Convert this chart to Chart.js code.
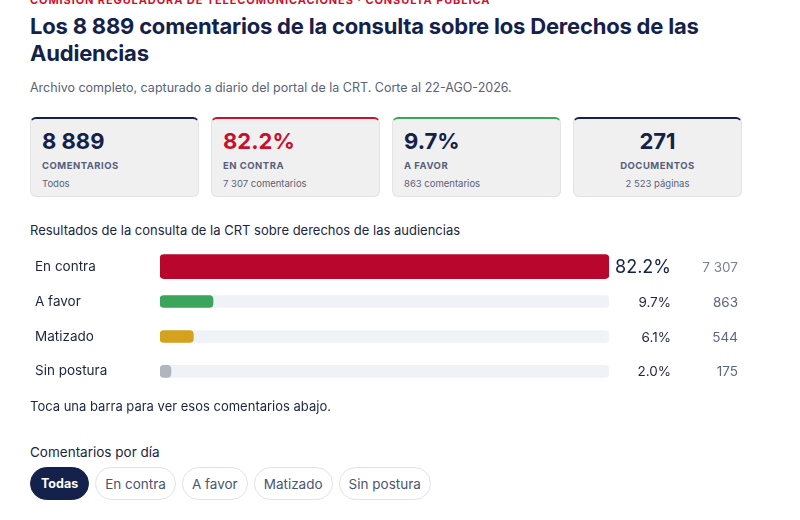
<!DOCTYPE html>
<html lang="es">
<head>
<meta charset="utf-8">
<script src="https://cdn.jsdelivr.net/npm/chart.js@4.4.1/dist/chart.umd.min.js"></script>
<style>
  body { margin: 0; background: #fff; font-family: Inter, "Open Sans", sans-serif; color: #14214a; width: 800px; height: 520px; overflow: hidden; position: relative; }
  .abs { position: absolute; }
  .kicker { left: 30px; top: -7px; font-size: 11px; font-weight: 700; letter-spacing: 0.9px; color: #d0102b; white-space: nowrap; }
  h1 { margin: 0; left: 30px; top: 13px; width: 700px; font-size: 22px; line-height: 27px; font-weight: 700; color: #14214a; letter-spacing: -0.2px; }
  .sub { left: 30px; top: 80px; font-size: 12.5px; color: #5a6275; }
  .card { top: 117px; width: 169px; height: 80px; background: #f0f0f1; border: 1px solid #e2e3e6; border-top: 2px solid #14214a; border-radius: 6px; box-sizing: border-box; }
  .card .big { position: absolute; left: 11px; top: 9px; font-size: 22px; font-weight: 700; color: #14214a; }
  .card .lab { position: absolute; left: 11px; top: 41px; font-size: 9.5px; font-weight: 700; letter-spacing: 0.5px; color: #56607a; }
  .card .sm { position: absolute; left: 11px; top: 59px; font-size: 9.5px; color: #5a6275; }
  .card.center .big, .card.center .lab, .card.center .sm { left: 0; right: 0; text-align: center; }
  .sect { left: 30px; top: 222px; font-size: 13px; color: #1c2540; }
  .hint { left: 30px; top: 398px; font-size: 13px; color: #1c2540; }
  .daily { left: 30px; top: 444px; font-size: 13.5px; color: #1c2540; }
  .pills { left: 30px; top: 467px; display: flex; gap: 6px; }
  .pill { height: 33px; box-sizing: border-box; border: 1px solid #dfe2e8; border-radius: 17px; padding: 0 9px; font-size: 13.5px; color: #4a5570; display: flex; align-items: center; background: #fff; }
  .pill.on { background: #14214a; border-color: #14214a; color: #fff; font-weight: 700; font-size: 12.5px; padding: 0 10px; }
  #wrap { left: 35px; top: 238px; width: 715px; height: 162px; }
</style>
</head>
<body>
<div class="abs kicker">COMISIÓN REGULADORA DE TELECOMUNICACIONES · CONSULTA PÚBLICA</div>
<h1 class="abs">Los 8 889 comentarios de la consulta sobre los Derechos de las Audiencias</h1>
<div class="abs sub">Archivo completo, capturado a diario del portal de la CRT. Corte al 22-AGO-2026.</div>

<div class="abs card" style="left:30px;border-top-color:#14214a"><div class="big">8 889</div><div class="lab">COMENTARIOS</div><div class="sm">Todos</div></div>
<div class="abs card" style="left:211px;border-top-color:#c8102e"><div class="big" style="color:#c8102e">82.2%</div><div class="lab">EN CONTRA</div><div class="sm">7 307 comentarios</div></div>
<div class="abs card" style="left:392px;border-top-color:#3ba55c"><div class="big">9.7%</div><div class="lab">A FAVOR</div><div class="sm">863 comentarios</div></div>
<div class="abs card center" style="left:573px;border-top-color:#14214a"><div class="big">271</div><div class="lab">DOCUMENTOS</div><div class="sm">2 523 páginas</div></div>

<div class="abs sect">Resultados de la consulta de la CRT sobre derechos de las audiencias</div>
<div class="abs" id="wrap"><canvas id="chart"></canvas></div>
<div class="abs hint">Toca una barra para ver esos comentarios abajo.</div>
<div class="abs daily">Comentarios por día</div>
<div class="abs pills">
  <div class="pill on">Todas</div><div class="pill">En contra</div><div class="pill">A favor</div><div class="pill">Matizado</div><div class="pill">Sin postura</div>
</div>

<script>
const categories = ["En contra", "A favor", "Matizado", "Sin postura"];
const percentages = [82.2, 9.7, 6.1, 2.0];
const counts = ["7 307", "863", "544", "175"];
const barColors = ["#b8062c", "#3ba55c", "#d4a21d", "#b0b6bf"];
const selected = 0;

const maxPct = Math.max(...percentages);

// columns of percentages and counts to the right of the bars
const valueColumns = {
  id: "valueColumns",
  afterDatasetsDraw(chart) {
    const c = chart.ctx;
    const y = chart.scales.y;
    const right = chart.chartArea.right;
    c.save();
    c.textBaseline = "middle";
    c.textAlign = "right";
    categories.forEach((cat, i) => {
      const py = y.getPixelForValue(i);
      if (i === selected) {
        c.font = "400 18px Inter, sans-serif";
        c.fillStyle = "#14214a";
      } else {
        c.font = "400 13.5px Inter, sans-serif";
        c.fillStyle = "#1c2540";
      }
      c.fillText(percentages[i].toFixed(1) + "%", right + 62, py + 1);
      c.font = "400 13.5px Inter, sans-serif";
      c.fillStyle = i === selected ? "#7a8296" : "#5d6680";
      c.fillText(counts[i], right + 129, py + 1);
    });
    c.restore();
  }
};

new Chart(document.getElementById("chart"), {
  type: "bar",
  data: {
    labels: categories,
    datasets: [
      {
        label: "fondo",
        data: percentages.map((v, i) => i === selected ? null : maxPct),
        backgroundColor: "#eff3f8",
        barThickness: 12,
        borderRadius: 4,
        borderSkipped: false,
        order: 2
      },
      {
        label: "seleccionado",
        data: percentages.map((v, i) => i === selected ? v : null),
        backgroundColor: barColors,
        barThickness: 24,
        borderRadius: 4,
        borderSkipped: false,
        order: 1
      },
      {
        label: "porcentaje",
        data: percentages.map((v, i) => i === selected ? null : v),
        backgroundColor: barColors,
        barThickness: 12,
        borderRadius: 4,
        borderSkipped: false,
        order: 1
      }
    ]
  },
  options: {
    indexAxis: "y",
    responsive: true,
    maintainAspectRatio: false,
    animation: false,
    layout: { padding: { left: 0, right: 141, top: 0, bottom: 0 } },
    datasets: { bar: { grouped: false } },
    plugins: {
      legend: { display: false },
      tooltip: { enabled: false }
    },
    scales: {
      x: {
        display: false,
        min: 0,
        max: maxPct
      },
      y: {
        grid: { display: false },
        border: { display: false },
        afterFit(scale) { scale.width = 125; },
        ticks: {
          crossAlign: "far",
          color: "#1c2540",
          font: { family: "Inter, sans-serif", size: 13.5 }
        }
      }
    }
  },
  plugins: [valueColumns]
});
</script>
</body>
</html>
